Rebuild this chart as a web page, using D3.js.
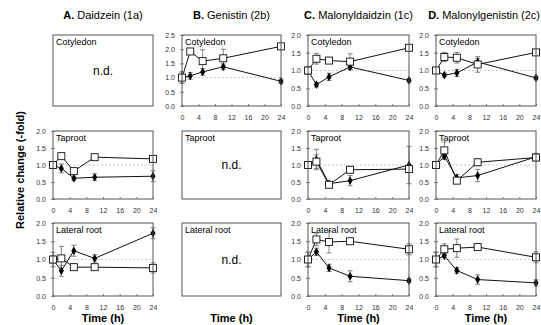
<!DOCTYPE html>
<html><head><meta charset="utf-8">
<script src="https://cdn.jsdelivr.net/npm/d3@7/dist/d3.min.js"></script>
<style>body{margin:0;background:#fff}</style>
</head><body>
<script>
// ---- data ----
const times = [0, 2, 5, 10, 24];
const xTicks = [0, 4, 8, 12, 16, 20, 24];
const yTicks2 = [0, 0.5, 1.0, 1.5, 2.0];
const yTicks25 = [0, 0.5, 1.0, 1.5, 2.0, 2.5];
const letters = ["A.", "B.", "C.", "D."];
const compounds = ["Daidzein (1a)", "Genistin (2b)", "Malonyldaidzin (1c)", "Malonylgenistin (2c)"];
const tissues = ["Cotyledon", "Taproot", "Lateral root"];

// open squares / filled diamonds, with error (+/-)
const A_tap_open = [1.0, 1.26, 0.82, 1.23, 1.18];
const A_tap_openErr = [0.1, 0.07, 0.08, 0.03, 0.08];
const A_tap_fill = [1.0, 0.9, 0.61, 0.64, 0.67];
const A_tap_fillErr = [0.1, 0.13, 0.06, 0.1, 0.16];
const A_lat_open = [1.0, 1.03, 0.79, 0.79, 0.77];
const A_lat_openErr = [0.1, 0.33, 0.05, 0.03, 0.14];
const A_lat_fill = [1.0, 0.69, 1.24, 1.03, 1.72];
const A_lat_fillErr = [0.2, 0.15, 0.15, 0.1, 0.15];

const B_cot_open = [1.0, 1.92, 1.58, 1.68, 2.1];
const B_cot_openErr = [0.2, 0.1, 0.4, 0.32, 0.1];
const B_cot_fill = [1.0, 1.06, 1.2, 1.38, 0.87];
const B_cot_fillErr = [0.2, 0.12, 0.12, 0.1, 0.08];

const C_cot_open = [1.0, 1.33, 1.28, 1.25, 1.64];
const C_cot_openErr = [0.1, 0.15, 0.08, 0.22, 0.05];
const C_cot_fill = [1.0, 0.6, 0.82, 1.1, 0.72];
const C_cot_fillErr = [0.1, 0.06, 0.1, 0.08, 0.05];
const C_tap_open = [1.0, 1.1, 0.42, 0.86, 0.88];
const C_tap_openErr = [0.06, 0.2, 0.04, 0.1, 0.1];
const C_tap_fill = [1.0, 1.16, 0.45, 0.54, 1.0];
const C_tap_fillErr = [0.06, 0.3, 0.04, 0.15, 0.55];
const C_lat_open = [1.0, 1.55, 1.48, 1.5, 1.28];
const C_lat_openErr = [0.2, 0.17, 0.3, 0.03, 0.15];
const C_lat_fill = [1.0, 1.21, 0.77, 0.54, 0.42];
const C_lat_fillErr = [0.2, 0.1, 0.1, 0.15, 0.05];

const D_cot_open = [1.0, 1.38, 1.36, 1.17, 1.51];
const D_cot_openErr = [0.05, 0.13, 0.15, 0.22, 0.05];
const D_cot_fill = [1.0, 0.87, 0.93, 1.24, 0.79];
const D_cot_fillErr = [0.05, 0.05, 0.1, 0.1, 0.05];
const D_tap_open = [1.0, 1.43, 0.54, 1.08, 1.22];
const D_tap_openErr = [0.1, 0.25, 0.07, 0.1, 0.1];
const D_tap_fill = [1.0, 1.26, 0.62, 0.69, 1.24];
const D_tap_fillErr = [0.06, 0.1, 0.1, 0.18, 0.1];
const D_lat_open = [1.0, 1.28, 1.31, 1.34, 1.06];
const D_lat_openErr = [0.2, 0.15, 0.25, 0.03, 0.15];
const D_lat_fill = [1.0, 1.1, 0.7, 0.45, 0.36];
const D_lat_fillErr = [0.2, 0.05, 0.08, 0.13, 0.08];

const panels = [
  {col:0,row:0,nd:true},
  {col:0,row:1,open:A_tap_open,openErr:A_tap_openErr,fill:A_tap_fill,fillErr:A_tap_fillErr,yt:yTicks2},
  {col:0,row:2,open:A_lat_open,openErr:A_lat_openErr,fill:A_lat_fill,fillErr:A_lat_fillErr,yt:yTicks2},
  {col:1,row:0,open:B_cot_open,openErr:B_cot_openErr,fill:B_cot_fill,fillErr:B_cot_fillErr,yt:yTicks25},
  {col:1,row:1,nd:true},
  {col:1,row:2,nd:true},
  {col:2,row:0,open:C_cot_open,openErr:C_cot_openErr,fill:C_cot_fill,fillErr:C_cot_fillErr,yt:yTicks2},
  {col:2,row:1,open:C_tap_open,openErr:C_tap_openErr,fill:C_tap_fill,fillErr:C_tap_fillErr,yt:yTicks2},
  {col:2,row:2,open:C_lat_open,openErr:C_lat_openErr,fill:C_lat_fill,fillErr:C_lat_fillErr,yt:yTicks2},
  {col:3,row:0,open:D_cot_open,openErr:D_cot_openErr,fill:D_cot_fill,fillErr:D_cot_fillErr,yt:yTicks2},
  {col:3,row:1,open:D_tap_open,openErr:D_tap_openErr,fill:D_tap_fill,fillErr:D_tap_fillErr,yt:yTicks2},
  {col:3,row:2,open:D_lat_open,openErr:D_lat_openErr,fill:D_lat_fill,fillErr:D_lat_fillErr,yt:yTicks2}
];

// ---- layout ----
const W = 541, H = 325;
const FONT = "Liberation Sans, Arial, sans-serif";
const colX = [[53,153],[182,281],[308,409],[436,536]];
const rowY = [[35,106],[131,199],[223,296]];

const svg = d3.select("body").append("svg").attr("width", W).attr("height", H)
  .attr("font-family", FONT);

letters.forEach((l, i) => {
  const cx = (colX[i][0] + colX[i][1]) / 2;
  const t = svg.append("text").attr("x", cx).attr("y", 19).attr("text-anchor", "middle")
    .attr("font-size", 11).attr("fill", "#000");
  t.append("tspan").attr("font-weight", "bold").text(l);
  t.append("tspan").text(" " + compounds[i]);
  const len = t.node().getComputedTextLength();
  if (cx + len / 2 > W - 1) t.attr("x", W - 1 - len / 2);
  svg.append("text").attr("x", cx).attr("y", 322).attr("text-anchor", "middle")
    .attr("font-size", 11).attr("font-weight", "bold").attr("fill", "#000").text("Time (h)");
});

svg.append("text").attr("transform", "translate(24,170) rotate(-90)").attr("text-anchor", "middle")
  .attr("font-size", 11).attr("font-weight", "bold").attr("fill", "#000").text("Relative change (-fold)");

const fmtY = d3.format(".1f"), fmtX = d3.format("d");

panels.forEach(p => {
  const [x0, x1] = colX[p.col], [y0, y1] = rowY[p.row];
  const w = x1 - x0, h = y1 - y0;
  const g = svg.append("g").attr("transform", `translate(${x0},${y0})`);

  if (!p.nd) {
    const ymax = p.yt[p.yt.length - 1];
    const x = d3.scaleLinear().domain([0, 24]).range([0, w]);
    const y = d3.scaleLinear().domain([0, ymax]).range([h, 0]);

    g.append("line").attr("x1", 0).attr("x2", w).attr("y1", y(1)).attr("y2", y(1))
      .attr("stroke", "#bbb").attr("stroke-width", 0.8).attr("stroke-dasharray", "2,2");

    const ya = g.append("g").call(d3.axisLeft(y).tickValues(p.yt).tickSize(2).tickPadding(5).tickFormat(fmtY));
    const yb = g.append("g").call(d3.axisRight(y).tickValues(p.yt).tickSize(2).tickFormat(() => ""));
    const xa = g.append("g").attr("transform", `translate(0,${h})`)
      .call(d3.axisBottom(x).tickValues(xTicks).tickSize(-2).tickPadding(9).tickFormat(fmtX));
    [ya, yb, xa].forEach(a => {
      a.attr("font-size", 7).attr("font-family", FONT);
      a.select(".domain").remove();
      a.selectAll("line").attr("stroke", "#555").attr("stroke-width", 0.7);
      a.selectAll("text").attr("fill", "#333");
    });
    // keep right-most tick labels inside the page
    xa.selectAll("text").each(function() {
      const len = this.getComputedTextLength();
      if (x0 + w + len / 2 > W - 1 && this.textContent === "24") d3.select(this).attr("dx", (W - 1 - (x0 + w + len / 2)));
    });

    const line = d3.line().x((d, i) => x(times[i])).y(d => y(d));
    const series = [
      {v: p.fill, e: p.fillErr, type: "fill"},
      {v: p.open, e: p.openErr, type: "open"}
    ];
    series.forEach(s => {
      g.append("path").attr("d", line(s.v)).attr("fill", "none").attr("stroke", "#111").attr("stroke-width", 1);
    });
    series.forEach(s => {
      const eb = g.append("g").attr("stroke", "#666").attr("stroke-width", 0.8);
      s.v.forEach((v, i) => {
        const cx = x(times[i]), lo = y(v - s.e[i]), hi = y(v + s.e[i]);
        eb.append("line").attr("x1", cx).attr("x2", cx).attr("y1", lo).attr("y2", hi);
        eb.append("line").attr("x1", cx - 2.5).attr("x2", cx + 2.5).attr("y1", lo).attr("y2", lo);
        eb.append("line").attr("x1", cx - 2.5).attr("x2", cx + 2.5).attr("y1", hi).attr("y2", hi);
      });
    });
    const diamond = d3.symbol().type(d3.symbolDiamond).size(22);
    series.forEach(s => {
      s.v.forEach((v, i) => {
        const cx = x(times[i]), cy = y(v);
        if (s.type === "fill") {
          g.append("path").attr("d", diamond()).attr("transform", `translate(${cx},${cy})`).attr("fill", "#000");
        } else {
          g.append("rect").attr("x", cx - 3.5).attr("y", cy - 3.5).attr("width", 7).attr("height", 7)
            .attr("fill", "#fff").attr("stroke", "#111").attr("stroke-width", 0.9);
        }
      });
    });
  } else {
    g.append("text").attr("x", w / 2).attr("y", h / 2 + 4).attr("text-anchor", "middle")
      .attr("font-size", 12).attr("fill", "#000").text("n.d.");
  }

  g.append("rect").attr("x", 0).attr("y", 0).attr("width", w).attr("height", h)
    .attr("fill", "none").attr("stroke", "#555").attr("stroke-width", 1);
  g.append("text").attr("x", 3).attr("y", 10).attr("font-size", 9).attr("fill", "#000").text(tissues[p.row]);
});
</script>
</body></html>
